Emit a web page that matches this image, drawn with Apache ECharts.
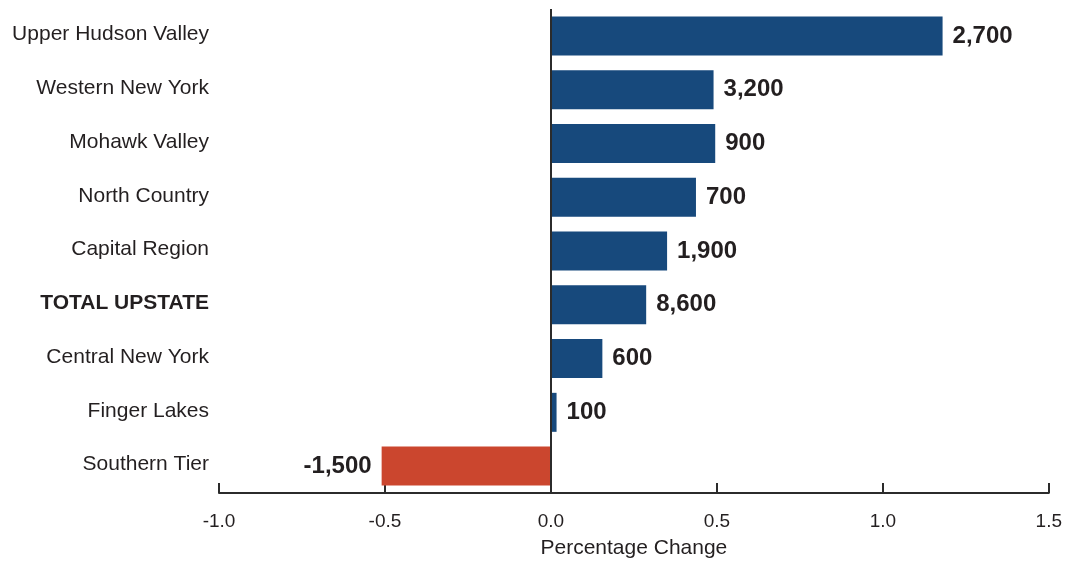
<!DOCTYPE html>
<html>
<head>
<meta charset="utf-8">
<script src="https://cdn.jsdelivr.net/npm/echarts@6/dist/echarts.min.js"></script>
<style>
html,body{margin:0;padding:0;background:#fff;}
#chart{width:1065px;height:564px;}
</style>
</head>
<body>
<div id="chart"></div>
<script>
var categories = ['Upper Hudson Valley', 'Western New York', 'Mohawk Valley', 'North Country', 'Capital Region', 'TOTAL UPSTATE', 'Central New York', 'Finger Lakes', 'Southern Tier'];
var pctChange = [1.18, 0.49, 0.495, 0.437, 0.35, 0.287, 0.155, 0.017, -0.51];
var jobChange = [2700, 3200, 900, 700, 1900, 8600, 600, 100, -1500];
var xTicks = { min: -1.0, max: 1.5, interval: 0.5 };

var FONT = '"Liberation Sans", Arial, Helvetica, sans-serif';
var TEXT = '#231f20';
var BLUE = '#17497c';
var RED = '#cb462e';

function fmtNum(n) {
  var s = Math.abs(n).toString().replace(/\B(?=(\d{3})+(?!\d))/g, ',');
  return (n < 0 ? '-' : '') + s;
}

var seriesData = pctChange.map(function (v, i) {
  return {
    value: v,
    itemStyle: { color: v < 0 ? RED : BLUE },
    label: {
      show: true,
      position: v < 0 ? 'left' : 'right',
      distance: 10,
      formatter: fmtNum(jobChange[i]),
      fontFamily: FONT,
      fontSize: 24,
      fontWeight: 'bold',
      color: TEXT
    }
  };
});

var chart = echarts.init(document.getElementById('chart'), null, { renderer: 'canvas' });
chart.setOption({
  animation: false,
  backgroundColor: '#ffffff',
  grid: { left: 219, right: 16, top: 9, bottom: 71, containLabel: false },
  xAxis: {
    type: 'value',
    min: xTicks.min,
    max: xTicks.max,
    interval: xTicks.interval,
    name: 'Percentage Change',
    nameLocation: 'middle',
    nameGap: 45,
    nameTextStyle: { fontFamily: FONT, fontSize: 21, color: TEXT },
    axisLine: { show: true, onZero: false, lineStyle: { color: '#2b2b2b', width: 2 } },
    axisTick: { show: true, inside: true, length: 10, lineStyle: { color: '#2b2b2b', width: 2 } },
    axisLabel: {
      margin: 19,
      fontFamily: FONT,
      fontSize: 19,
      color: TEXT,
      formatter: function (v) { return v.toFixed(1); }
    },
    splitLine: { show: false }
  },
  yAxis: {
    type: 'category',
    data: categories,
    inverse: true,
    axisLine: { show: false },
    axisTick: { show: false },
    splitLine: { show: false },
    axisLabel: {
      margin: 10,
      fontFamily: FONT,
      fontSize: 21,
      color: TEXT,
      padding: [0, 0, 3, 0],
      formatter: function (v) {
        return v === 'TOTAL UPSTATE' ? '{b|' + v + '}' : v;
      },
      rich: {
        b: { fontFamily: FONT, fontSize: 21, fontWeight: 'bold', color: TEXT }
      }
    }
  },
  series: [{
    type: 'bar',
    data: seriesData,
    barWidth: 39,
    markLine: {
      silent: true,
      symbol: 'none',
      label: { show: false },
      lineStyle: { type: 'solid', color: '#2b2b2b', width: 2 },
      data: [{ xAxis: 0 }]
    }
  }]
});
</script>
</body>
</html>
